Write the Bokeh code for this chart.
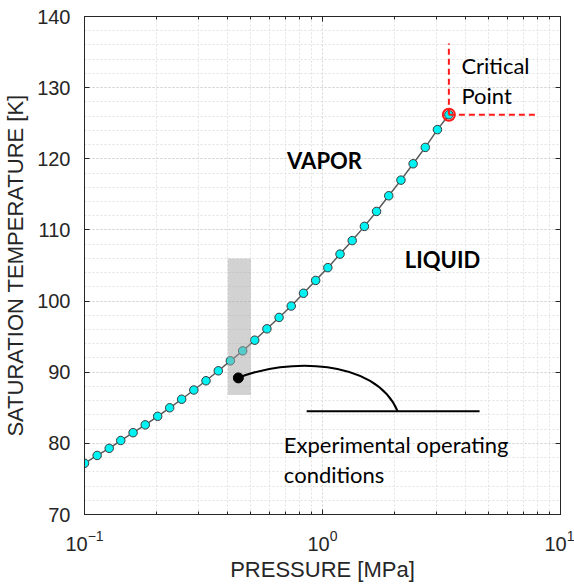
from bokeh.plotting import figure
from bokeh.models import (FixedTicker, LinearAxis, LogAxis, Label, Range1d, LogTickFormatter)
from bokeh.embed import file_html
from bokeh.resources import INLINE

# ---------------- data ----------------
pressure_mpa = [0.100, 0.113, 0.127, 0.142, 0.160, 0.180, 0.203, 0.228, 0.256, 0.288,
                0.324, 0.365, 0.410, 0.462, 0.519, 0.584, 0.657, 0.739, 0.832, 0.936,
                1.053, 1.185, 1.333, 1.500, 1.687, 1.898, 2.136, 2.403, 2.703, 3.041]
temperature_k = [77.2, 78.3, 79.3, 80.4, 81.5, 82.6, 83.8, 85.0, 86.2, 87.5,
                 88.8, 90.2, 91.6, 93.0, 94.5, 96.1, 97.7, 99.3, 101.1, 102.9,
                 104.7, 106.6, 108.5, 110.5, 112.6, 114.8, 117.0, 119.3, 121.6, 124.1]
critical_p = [3.396]
critical_t = [126.2]
window_p = [0.4, 0.5]          # experimental operating window (pressure)
window_t = [86.8, 106.0]       # experimental operating window (temperature)
operating_p = [0.443]
operating_t = [89.2]

x_ticks = [0.1, 1, 10]
x_minor_ticks = [0.2, 0.3, 0.4, 0.5, 0.6, 0.7, 0.8, 0.9, 2, 3, 4, 5, 6, 7, 8, 9]
y_ticks = [70, 80, 90, 100, 110, 120, 130, 140]
y_minor_ticks = list(range(70, 141, 2))

AX = "#262626"
AXFONT = "Liberation Sans"
TXFONT = "Lato"

p = figure(width=574, height=588, x_axis_type="log",
           x_range=Range1d(0.1, 10), y_range=Range1d(70, 140),
           output_backend="svg", toolbar_location=None,
           min_border_left=83, min_border_right=14, min_border_top=16,
           min_border_bottom=74, background_fill_color="white",
           border_fill_color="white")
p.outline_line_color = AX
p.outline_line_width = 1

xt = FixedTicker(ticks=x_ticks, minor_ticks=x_minor_ticks)
yt = FixedTicker(ticks=y_ticks, minor_ticks=y_minor_ticks)

xa = p.xaxis[0]
xa.ticker = xt
xa.formatter = LogTickFormatter()
xa.axis_label = "PRESSURE [MPa]"
xa.axis_label_text_font = AXFONT
xa.axis_label_text_font_size = "22px"
xa.axis_label_text_font_style = "normal"
xa.axis_label_text_color = AX
xa.axis_label_standoff = 3
xa.major_label_text_font = AXFONT
xa.major_label_text_font_size = "20px"
xa.major_label_text_color = AX
xa.major_label_standoff = 15
xa.major_tick_in = 5
xa.major_tick_out = 0
xa.minor_tick_in = 3
xa.minor_tick_out = 0
xa.axis_line_color = AX
xa.major_tick_line_color = AX
xa.minor_tick_line_color = AX

ya = p.yaxis[0]
ya.ticker = yt
ya.axis_label = "SATURATION TEMPERATURE [K]"
ya.axis_label_text_font = AXFONT
ya.axis_label_text_font_size = "22px"
ya.axis_label_text_font_style = "normal"
ya.axis_label_text_color = AX
ya.axis_label_standoff = 6
ya.major_label_text_font = AXFONT
ya.major_label_text_font_size = "20px"
ya.major_label_text_color = AX
ya.major_label_standoff = 10
ya.major_tick_in = 5
ya.major_tick_out = 0
ya.minor_tick_line_color = None
ya.axis_line_color = AX
ya.major_tick_line_color = AX

top = LogAxis(ticker=xt, major_label_text_font_size="1px", major_label_text_color=None,
              major_tick_in=5, major_tick_out=0, minor_tick_in=3, minor_tick_out=0,
              axis_line_color=AX, major_tick_line_color=AX, minor_tick_line_color=AX)
right = LinearAxis(ticker=yt, major_label_text_font_size="1px", major_label_text_color=None,
                   major_tick_in=5, major_tick_out=0, minor_tick_line_color=None,
                   axis_line_color=AX, major_tick_line_color=AX)
p.add_layout(top, "above")
p.add_layout(right, "right")

for g in (p.xgrid[0], p.ygrid[0]):
    g.grid_line_color = "#d2d2d2"
    g.grid_line_dash = "2 2"
    g.minor_grid_line_color = "#e2e2e2"
    g.minor_grid_line_dash = "2 2"

# saturation curve
curve_p = pressure_mpa + critical_p
curve_t = temperature_k + critical_t
p.line(curve_p, curve_t, line_color="#5a5a5a", line_width=1.5)
p.scatter(curve_p, curve_t, marker="circle", size=8.5, fill_color="#00f2f2",
          line_color="#3a3a3a", line_width=1)

# experimental window (drawn over the curve)
p.quad(left=[window_p[0]], right=[window_p[1]], bottom=[window_t[0]], top=[window_t[1]],
       fill_color="#a6a6a6", fill_alpha=0.5, line_color=None)

# critical point marker and dashed guide lines
p.scatter(critical_p, critical_t, marker="circle", size=12, fill_color=None,
          line_color="#ff1a1a", line_width=2)
p.line([critical_p[0], critical_p[0]], [critical_t[0], 136.2], line_color="#ff1a1a",
       line_width=2, line_dash="6 4")
p.line([critical_p[0], 8.1], [critical_t[0], critical_t[0]], line_color="#ff1a1a",
       line_width=2, line_dash="6 4")

# operating-condition callout
p.scatter(operating_p, operating_t, marker="circle", size=10, fill_color="black",
          line_color="black")
p.bezier(x0=[operating_p[0]], y0=[operating_t[0]], x1=[2.07], y1=[84.5],
         cx0=[0.70], cy0=[92.0], cx1=[1.67], cy1=[92.0],
         line_color="black", line_width=2)
p.line([0.858, 4.57], [84.5, 84.5], line_color="black", line_width=2)

def txt(x, y, s, bold=False):
    p.add_layout(Label(x=x, y=y, text=s, text_font=TXFONT, text_font_size="22px",
                       text_font_style="bold" if bold else "normal",
                       text_color="black", text_baseline="alphabetic",
                       text_align="left"))

txt(0.710, 119.76, "VAPOR", bold=True)
txt(2.218, 105.8, "LIQUID", bold=True)
txt(3.834, 133.1, "Critical")
txt(3.834, 128.9, "Point")
txt(0.688, 79.84, "Experimental operating")
txt(0.688, 75.62, "conditions")

open("out.html", "w").write(file_html(p, INLINE))
